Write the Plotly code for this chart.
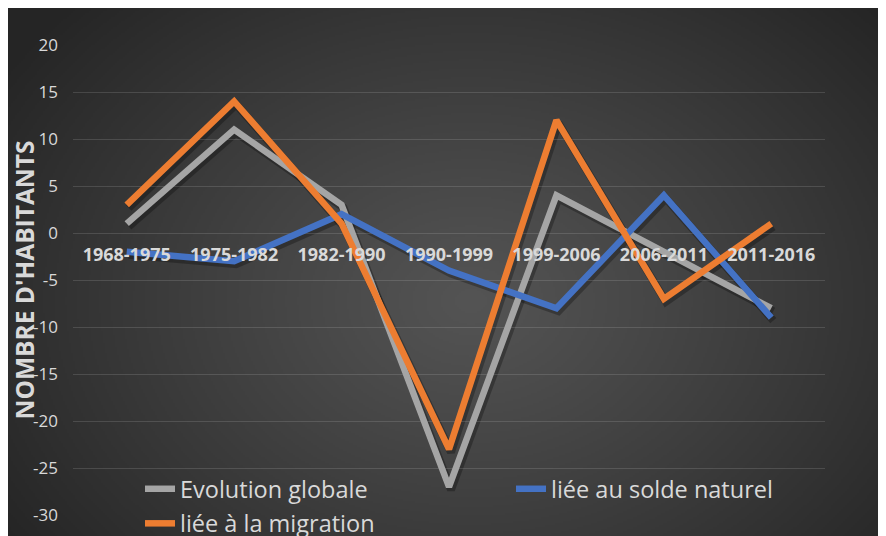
import base64, struct, zlib
import numpy as np
import plotly.graph_objects as go

periods = ["1968-1975", "1975-1982", "1982-1990", "1990-1999", "1999-2006", "2006-2011", "2011-2016"]
evolution_globale = [1, 11, 3, -27, 4, -2, -8]
solde_naturel = [-2, -3, 2, -4, -8, 4, -9]
migration = [3, 14, 1, -23, 12, -7, 1]
y_ticks = [20, 15, 10, 5, 0, -5, -10, -15, -20, -25, -30]

W, H = 886, 536
OFF = 8  # page body margin
L, T = 73 - OFF, 45 - OFF
R, B = W - (825 - OFF), H - (515 - OFF)
PW, PH = W - L - R, H - T - B
SDX, SDY = 2, 3  # drop-shadow offset in pixels
PWp, PHp = PW + SDX, PH + SDY


def png_data_uri(arr):
    h, w, _ = arr.shape
    raw = b"".join(b"\x00" + arr[i].tobytes() for i in range(h))
    def chunk(tag, data):
        c = struct.pack(">I", len(data)) + tag + data
        return c + struct.pack(">I", zlib.crc32(tag + data) & 0xffffffff)
    png = b"\x89PNG\r\n\x1a\n" + chunk(b"IHDR", struct.pack(">IIBBBBB", w, h, 8, 2, 0, 0, 0))
    png += chunk(b"IDAT", zlib.compress(raw, 9)) + chunk(b"IEND", b"")
    return "data:image/png;base64," + base64.b64encode(png).decode()


# radial gradient background covering the whole figure
sc = 2
gw, gh = W // sc, H // sc
xs = (np.arange(gw) * sc + OFF)[None, :]
ys = (np.arange(gh) * sc + OFF)[:, None]
r = np.sqrt(((xs - 470) / 560.0) ** 2 + ((ys - 300) / 430.0) ** 2)
r = np.clip(r, 0, 1)
v = 84 - (84 - 37) * r ** 1.1
img = np.repeat(v[:, :, None], 3, axis=2).astype(np.uint8)
bg_uri = png_data_uri(img)

FONT = "Open Sans"
TXT = "#d9d9d9"


def px_x(p):
    return (p - L) / PWp


def px_y(p):
    return (H - (B - SDY) - p) / PHp


series = [("Evolution globale", evolution_globale, "#a5a5a5", "legend", "a"),
          ("liée au solde naturel", solde_naturel, "#4472c4", "legend2", "b"),
          ("liée à la migration", migration, "#ed7d31", "legend", "c")]

fig = go.Figure()
# soft drop shadows: same data on hidden axes (x/y) offset by a few pixels, drawn first
for name, vals, col, lg, grp in series:
    fig.add_trace(go.Scatter(x=periods, y=vals, mode="lines", xaxis="x", yaxis="y",
                             showlegend=False, hoverinfo="skip",
                             line=dict(color="rgba(0,0,0,0.28)", width=8)))
# visible series on the main visible axes (x2/y2), layered above
for name, vals, col, lg, grp in series:
    fig.add_trace(go.Scatter(x=periods, y=vals, name=name, mode="lines",
                             xaxis="x2", yaxis="y2",
                             legend=lg, legendgroup=grp,
                             line=dict(color=col, width=6.5)))

fig.add_layout_image(dict(
    source=bg_uri, xref="paper", yref="paper",
    x=px_x(0), y=px_y(0),
    sizex=W / PWp, sizey=H / PHp,
    xanchor="left", yanchor="top", sizing="stretch", layer="below"))

xdom = [0, PW / PWp]
ydom = [SDY / PHp, 1]
zero_pos = ydom[0] + 0.6 * (PH / PHp)

leg_common = dict(xanchor="left", yanchor="top", orientation="v",
                  font=dict(size=23.5, color=TXT, family=FONT),
                  bgcolor="rgba(0,0,0,0)", tracegroupgap=1, traceorder="grouped")

fig.update_layout(
    width=W, height=H,
    margin=dict(l=L, r=R - SDX, t=T, b=B - SDY, autoexpand=False),
    paper_bgcolor="#303030",
    plot_bgcolor="rgba(0,0,0,0)",
    font=dict(family=FONT, color=TXT),
    showlegend=True,
    legend=dict(x=px_x(132), y=px_y(459), **leg_common),
    legend2=dict(x=px_x(503), y=px_y(459), **leg_common),
    xaxis=dict(type="category", domain=[SDX / PWp, 1], anchor="y", range=[-0.5, 6.5],
               visible=False, showgrid=False, zeroline=False),
    yaxis=dict(domain=[0, PH / PHp], anchor="x", range=[-30, 20],
               visible=False, showgrid=False, zeroline=False),
    xaxis2=dict(type="category", domain=xdom, anchor="free", position=zero_pos, range=[-0.5, 6.5],
                showgrid=False, showline=False, zeroline=False, ticks="",
                tickfont=dict(size=18, color=TXT, family=FONT, weight="bold"),
                ticklabelstandoff=9),
    yaxis2=dict(domain=ydom, anchor="x2", range=[-30, 20], tickvals=y_ticks,
                ticktext=[str(t) for t in y_ticks],
                showgrid=True, gridcolor="rgba(217,217,217,0.16)", gridwidth=1.3,
                zeroline=False, showline=False, ticks="",
                tickfont=dict(size=17, color=TXT, family=FONT),
                ticklabelstandoff=14,
                title=dict(text="NOMBRE D'HABITANTS", standoff=4,
                           font=dict(size=24.5, color=TXT, family=FONT, weight="bold"))),
)

fig.write_html("out.html")
